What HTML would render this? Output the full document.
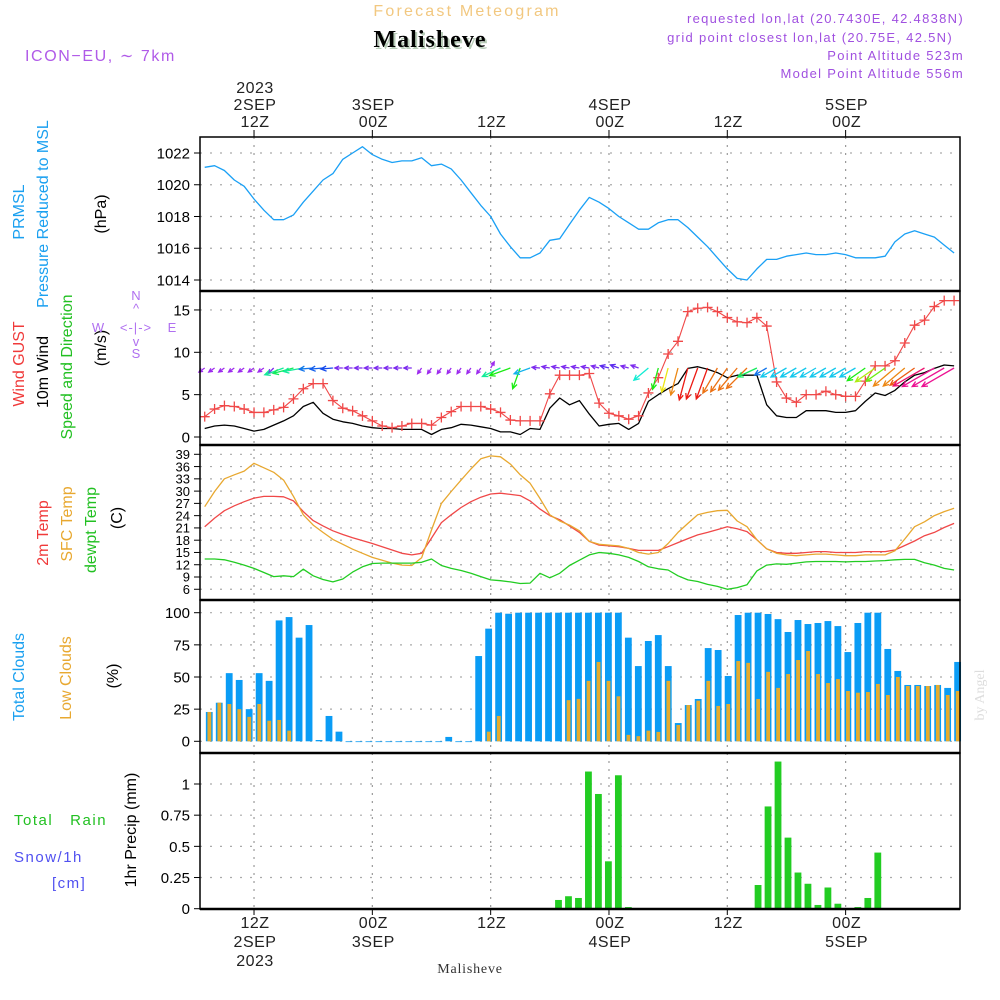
<!DOCTYPE html>
<html><head><meta charset="utf-8"><style>
html,body{margin:0;padding:0;background:#fff;}
svg{display:block;font-family:"Liberation Sans",sans-serif;}
</style></head><body>
<svg id="chart" width="1000" height="1000" viewBox="0 0 1000 1000" xmlns="http://www.w3.org/2000/svg">
<g id="grid"></g>
<g id="marks"></g>
<g id="frames"></g>
<g id="labels">
 <text x="467" y="16" font-size="16" fill="#f2c880" text-anchor="middle" letter-spacing="2.2">Forecast Meteogram</text>
 <text x="432" y="49" font-size="24" font-weight="bold" font-family="Liberation Serif, serif" fill="#b8ccb8" text-anchor="middle" letter-spacing="1">Malisheve</text>
 <text x="430" y="47" font-size="24" font-weight="bold" font-family="Liberation Serif, serif" fill="#000" text-anchor="middle" letter-spacing="1">Malisheve</text>
 <text x="25" y="61" font-size="16" fill="#b05ae8" letter-spacing="1.6">ICON−EU, ∼ 7km</text>
 <g font-size="13" fill="#a050e0" text-anchor="end" letter-spacing="1.3">
  <text x="964" y="23">requested lon,lat (20.7430E, 42.4838N)</text>
  <text x="953" y="42">grid point closest lon,lat (20.75E, 42.5N)</text>
  <text x="964" y="60">Point Altitude 523m</text>
  <text x="964" y="78">Model Point Altitude 556m</text>
 </g>
 <text x="470" y="973" font-size="14" font-family="Liberation Serif, serif" fill="#333" text-anchor="middle" letter-spacing="0.8">Malisheve</text>
 <text transform="translate(984,695) rotate(-90)" font-size="14" font-family="Liberation Serif, serif" fill="#ddd" text-anchor="middle">by Angel</text>

 <g font-size="16" text-anchor="middle">
  <text transform="translate(24,212) rotate(-90)" fill="#1aa0f0">PRMSL</text>
  <text transform="translate(48,214) rotate(-90)" fill="#1aa0f0">Pressure Reduced to MSL</text>
  <text transform="translate(106,214) rotate(-90)" fill="#000">(hPa)</text>
  <text transform="translate(24,364) rotate(-90)" fill="#f03a3a">Wind GUST</text>
  <text transform="translate(48,372) rotate(-90)" fill="#000">10m Wind</text>
  <text transform="translate(72,367) rotate(-90)" fill="#22c022">Speed and Direction</text>
  <text transform="translate(106,348) rotate(-90)" fill="#000">(m/s)</text>
  <text transform="translate(48,533) rotate(-90)" fill="#f03a3a">2m Temp</text>
  <text transform="translate(72,524) rotate(-90)" fill="#e8a830">SFC Temp</text>
  <text transform="translate(96,530) rotate(-90)" fill="#22c022">dewpt Temp</text>
  <text transform="translate(122,518) rotate(-90)" fill="#000">(C)</text>
  <text transform="translate(24,677) rotate(-90)" fill="#1aa0f0">Total Clouds</text>
  <text transform="translate(71,678) rotate(-90)" fill="#e8a830">Low Clouds</text>
  <text transform="translate(118,676) rotate(-90)" fill="#000">(%)</text>
  <text transform="translate(136,830) rotate(-90)" fill="#000">1hr Precip (mm)</text>
 </g>
 <text x="14" y="825" font-size="15" fill="#22c022" letter-spacing="1.5">Total&#160;&#160;&#160;Rain</text>
 <text x="14" y="862" font-size="15" fill="#5050f0" letter-spacing="1.5">Snow/1h</text>
 <text x="52" y="888" font-size="15" fill="#5050f0" letter-spacing="1.5">[cm]</text>
 <g font-size="13" fill="#b070f0" text-anchor="middle">
  <text x="136" y="300">N</text>
  <text x="136" y="313">^</text>
  <text x="98" y="332">W</text>
  <text x="136" y="332" letter-spacing="1">&lt;-|-&gt;</text>
  <text x="172" y="332">E</text>
  <text x="136" y="346">v</text>
  <text x="136" y="358">S</text>
 </g>
</g>
<g id="axes"></g>
</svg>
<script>
// ---- data (hourly, hour 7 of 2SEP .. hour 83) ----
const startHour = 7;
const pressure = [1021.1,1021.2,1020.9,1020.3,1019.9,1019.1,1018.4,1017.8,1017.8,1018.1,1018.9,1019.6,1020.3,1020.7,1021.6,1022.0,1022.4,1021.9,1021.6,1021.4,1021.5,1021.5,1021.7,1021.2,1021.3,1021.0,1020.3,1019.5,1018.7,1018.0,1016.9,1016.1,1015.4,1015.4,1015.7,1016.5,1016.6,1017.5,1018.4,1019.2,1018.9,1018.5,1018.0,1017.6,1017.2,1017.2,1017.6,1017.8,1017.8,1017.3,1016.7,1016.1,1015.4,1014.7,1014.1,1014.0,1014.7,1015.3,1015.3,1015.5,1015.6,1015.7,1015.6,1015.6,1015.7,1015.6,1015.4,1015.4,1015.4,1015.5,1016.4,1016.9,1017.1,1016.9,1016.7,1016.2,1015.7];
const windGust = [2.4,3.3,3.7,3.6,3.3,2.9,2.9,3.2,3.5,4.5,5.7,6.3,6.3,4.3,3.4,3.1,2.5,1.9,1.3,1.1,1.3,1.6,1.6,1.4,2.3,3.0,3.6,3.6,3.6,3.3,2.9,2.0,1.9,1.9,1.9,5.1,7.3,7.3,7.3,7.5,4.0,2.8,2.5,2.1,2.5,5.2,7.0,9.8,11.3,14.8,15.2,15.3,14.8,14.1,13.6,13.5,14.1,13.1,6.5,4.6,4.1,5.0,5.0,5.4,5.0,4.8,4.8,6.6,8.4,8.4,9.0,11.1,13.2,13.8,15.4,16.1,16.1];
const windSpeed = [1.0,1.3,1.4,1.3,1.0,0.7,0.9,1.4,1.9,2.5,3.6,4.1,2.8,2.1,1.8,1.6,1.3,1.1,1.0,1.0,0.9,0.9,0.9,0.3,0.9,1.1,1.5,1.4,1.2,1.0,0.6,0.6,0.3,1.0,0.9,3.4,4.6,3.8,4.3,2.7,1.3,1.5,1.6,0.9,1.6,4.2,5.0,5.7,6.3,8.1,8.3,8.0,7.6,7.0,7.3,7.3,7.3,3.8,2.5,2.3,2.3,3.1,3.1,3.1,2.9,2.9,3.1,4.2,5.2,4.9,5.5,6.5,7.3,7.6,8.1,8.5,8.4];
// arrow pointing direction (deg, math convention) and arrow-level wind strength
const arrowDir = [215,215,215,215,215,215,215,225,200,195,190,185,185,185,180,180,180,180,180,180,180,180,235,235,235,235,235,235,235,60,205,200,250,200,175,170,170,170,170,170,165,165,160,165,160,220,255,255,255,255,250,250,240,235,230,225,205,210,210,210,210,210,210,210,210,210,210,215,215,215,220,220,215,210,210,210,210];
const arrowSpd = [7,7,7,7,7,7,7,8,20,21,20,14,13,12,8,8,8,8,8,8,8,8,7,7,7,7,7,7,7,7,20,22,22,17,8,8,8,8,8,8,8,9,9,8,8,19,22,25,28,33,33,33,29,29,29,29,21,14,18,18,18,18,18,18,18,18,18,22,24,23,28,28,30,36,37,37,37];
const temp2m = [21.3,23.4,25.2,26.4,27.4,28.3,28.7,28.7,28.6,27.6,25.0,22.8,21.5,20.3,19.4,18.6,17.9,17.2,16.4,15.6,14.8,14.4,14.8,18.5,22.3,24.2,26.0,27.4,28.5,29.3,29.5,29.2,28.9,27.6,25.6,24.0,23.0,21.5,19.9,17.7,16.8,16.6,16.4,16.0,15.5,15.5,15.5,16.4,17.4,18.4,19.3,19.9,20.6,21.3,20.8,20.1,18.1,15.9,15.0,14.8,14.8,15.0,15.2,15.2,15.0,15.0,15.0,15.2,15.2,15.2,15.6,16.7,17.8,19.1,19.9,21.1,22.1];
const tempSfc = [26.2,29.9,33.0,34.0,34.9,36.8,35.7,34.6,32.7,28.7,24.2,21.7,19.9,18.2,17.0,15.8,14.8,13.8,13.1,12.4,11.9,11.8,13.7,20.5,27.0,29.9,32.7,35.4,37.9,38.6,38.4,36.6,34.0,31.9,28.2,24.2,22.7,21.7,20.3,17.7,17.0,16.8,16.6,16.0,15.0,14.6,15.0,17.2,19.9,22.1,24.2,24.8,25.2,25.3,22.7,21.3,18.1,15.9,14.8,14.4,14.2,14.4,14.6,14.6,14.4,14.2,14.2,14.4,14.4,14.4,15.4,18.3,21.3,22.5,24.0,25.0,25.8];
const dewpt = [13.4,13.4,13.2,12.6,11.9,11.1,10.1,9.1,9.3,9.1,10.9,9.3,8.4,7.8,8.5,10.2,11.5,12.3,12.4,12.4,12.4,12.4,12.6,13.4,11.8,11.1,10.6,9.9,9.1,8.3,8.1,7.8,7.4,7.5,9.9,8.8,9.9,11.8,13.1,14.4,15.0,14.8,14.4,13.8,12.8,11.5,11.0,10.7,9.3,8.3,7.9,7.2,6.7,6.0,6.4,7.1,10.5,11.9,12.2,12.1,12.4,12.7,12.8,12.8,12.8,12.7,12.8,12.8,12.9,13.0,13.2,13.3,13.3,12.5,11.9,11.1,10.7];
// bar series (76 bars)
const barStartHour = 7.46;
const barStepHours = 1.012;
const totalClouds = [22.8,30,53,47.7,25,53,47,94,96.6,80.6,90.4,1,19.7,7.5,0,0,0,0,0,0,0,0,0,0,3.4,0,0,66.3,87.6,100,99.2,100,100,100,100,100,100,100,100,100,100,100,80.6,58.5,78,82.6,58.5,14.2,28.2,32.9,72.5,71,50.8,98.2,100,100,99,95,85,94.3,91.2,92,93.5,89.6,69.4,92,100,100,71.8,54.7,43.8,43.8,43,43.8,41.5,61.7];
const lowClouds = [22.8,30,29,25,19,29,16,16.6,8.3,0,0,0,0,0,0,0,0,0,0,0,0,0,0,0,0,0,0,0,7.5,19.7,0,0,0,0,0,0,32,33,47,61.7,47,35,5,4,8.3,7.3,47,12.7,28.2,31.6,47,27.5,29,62.4,61,32.9,54,41.5,52.3,63.2,70.2,52.3,45.3,48.4,39.1,37.8,38.3,44.6,36,50,43,43,43,43.8,36,39.1];
const precip = [0,0,0,0,0,0,0,0,0,0,0,0,0,0,0,0,0,0,0,0,0,0,0,0,0,0,0,0,0,0,0,0,0,0,0,0.07,0.10,0.086,1.10,0.92,0.38,1.07,0.013,0,0,0,0,0,0,0,0,0,0,0,0,0.19,0.82,1.18,0.57,0.29,0.20,0.03,0.17,0.04,0,0.013,0.086,0.45,0,0,0,0,0,0,0,0];
// axis ticks
const timeTickHours = [12,24,36,48,60,72];
const timeTickTop = [["2023","2SEP","12Z"],["","3SEP","00Z"],["","","12Z"],["","4SEP","00Z"],["","","12Z"],["","5SEP","00Z"]];
const timeTickBottom = [["12Z","2SEP","2023"],["00Z","3SEP",""],["12Z","",""],["00Z","4SEP",""],["12Z","",""],["00Z","5SEP",""]];
const pressureTicks = [1014,1016,1018,1020,1022];
const windTicks = [0,5,10,15];
const tempTicks = [6,9,12,15,18,21,24,27,30,33,36,39];
const cloudTicks = [0,25,50,75,100];
const precipTicks = [0,0.25,0.5,0.75,1];
const precipTickLabels = ["0","0.25","0.5","0.75","1"];

// ---- scales ----
const X0 = 200, X1 = 960;
const panels = [137,291,445,600,753,909];
const xS = h => 135.7 + 9.86 * h;
const yP = p => 153 + (1022 - p) * 15.875;
const yW = v => 437 - v * 8.47;
const yT = t => 454.3 + (39 - t) * 4.09;
const yC = c => 741.3 - c * 1.286;
const yR = r => 908.7 - r * 124.7;
const barX = i => xS(barStartHour + i * barStepHours);

const NS = "http://www.w3.org/2000/svg";
function mk(tag, attrs, parent) {
  const el = document.createElementNS(NS, tag);
  for (const k in attrs) el.setAttribute(k, attrs[k]);
  parent.appendChild(el);
  return el;
}
const G = document.getElementById('grid'), M = document.getElementById('marks'),
      F = document.getElementById('frames'), A = document.getElementById('axes');

timeTickHours.forEach(h => {
  const l = mk('line', {x1: xS(h), x2: xS(h), y1: panels[0], y2: panels[5], stroke: '#999', 'stroke-width': 1.2, 'stroke-dasharray': '2,6'}, G);
  
  
});
function hGrid(vals, sc, name) {
  vals.forEach(v => {
    const l = mk('line', {x1: X0, x2: X1, y1: sc(v), y2: sc(v), stroke: '#aaa', 'stroke-width': 1.2, 'stroke-dasharray': '2,8'}, G);
    
    
  });
}
hGrid(pressureTicks, yP, 'pressure-gridline');
hGrid(windTicks, yW, 'wind-gridline');
hGrid(tempTicks, yT, 'temp-gridline');
hGrid(cloudTicks, yC, 'cloud-gridline');
hGrid(precipTicks, yR, 'precip-gridline');

function line(arr, sc, color, name, w) {
  const pts = arr.map((v, i) => xS(startHour + i).toFixed(1) + ',' + sc(v).toFixed(1)).join(' ');
  const p = mk('polyline', {points: pts, fill: 'none', stroke: color, 'stroke-width': w || 1.3, 'stroke-linejoin': 'round'}, M);
  
  
  return p;
}
totalClouds.forEach((c, i) => {
  const y = yC(c);
  const r = mk('rect', {x: barX(i) - 3.4, y: y, width: 6.8, height: Math.max(741.3 - y, 0.8), fill: '#0a9cf5'}, M);
  
  
});
lowClouds.forEach((c, i) => {
  if (c <= 0) return;
  const y = yC(c);
  const r = mk('rect', {x: barX(i) - 1.8, y: y, width: 3.8, height: 741.3 - y, fill: '#e6ab2c'}, M);
  
  
});
precip.forEach((v, i) => {
  if (v <= 0) return;
  const y = yR(v);
  const r = mk('rect', {x: barX(i) - 3.4, y: y, width: 6.8, height: 908.7 - y, fill: '#22cc22'}, M);
  
  
});

line(pressure, yP, '#1aa0f5', 'pressure-line', 1.3);
line(temp2m, yT, '#f04848', 'temp-2m-line', 1.3);
line(tempSfc, yT, '#e8a830', 'temp-sfc-line', 1.3);
line(dewpt, yT, '#22cc22', 'dewpoint-line', 1.3);
line(windSpeed, yW, '#000', 'wind-speed-line', 1.3);
line(windGust, yW, '#f04848', 'wind-gust-line', 1.1);
windGust.forEach((v, i) => {
  const x = xS(startHour + i), y = yW(v);
  const p = mk('path', {d: `M${x-5},${y}H${x+5}M${x},${y-5}V${y+5}`, stroke: '#f04848', 'stroke-width': 1.3}, M);
  
  
});
const hueStops = [[7,275],[12,225],[18,190],[21,140],[23,95],[25,58],[28,32],[33,2],[37,-35]];
function hueOf(s) {
  if (s <= hueStops[0][0]) return hueStops[0][1];
  for (let k = 1; k < hueStops.length; k++) {
    if (s <= hueStops[k][0]) {
      const [a, ha] = hueStops[k-1], [b, hb] = hueStops[k];
      return ha + (hb - ha) * (s - a) / (b - a);
    }
  }
  return hueStops[hueStops.length-1][1];
}
arrowDir.forEach((d, i) => {
  const s = arrowSpd[i];
  const x = xS(startHour + i), y = 368;
  const a = d * Math.PI / 180;
  const hx = x + s * Math.cos(a), hy = y - s * Math.sin(a);
  const hl = Math.min(6, s * 0.6);
  const b1 = a + Math.PI - 0.45, b2 = a + Math.PI + 0.45;
  const h = (hueOf(s) + 360) % 360;
  const col = `hsl(${h.toFixed(0)},85%,${s < 10 ? 55 : 50}%)`;
  const p = mk('path', {d: `M${x.toFixed(1)},${y}L${hx.toFixed(1)},${hy.toFixed(1)}M${(hx + hl*Math.cos(b1)).toFixed(1)},${(hy - hl*Math.sin(b1)).toFixed(1)}L${hx.toFixed(1)},${hy.toFixed(1)}L${(hx + hl*Math.cos(b2)).toFixed(1)},${(hy - hl*Math.sin(b2)).toFixed(1)}`, stroke: col, 'stroke-width': 1.3, fill: 'none'}, M);
  
  
});

for (let k = 0; k < 5; k++) {
  const r = mk('rect', {x: X0, y: panels[k], width: X1 - X0, height: panels[k+1] - panels[k], fill: 'none', stroke: '#000', 'stroke-width': 1.5}, F);
  
  
}
for (let k = 1; k < 5; k++) {
  const l = mk('line', {x1: X0, x2: X1, y1: panels[k], y2: panels[k], stroke: '#000', 'stroke-width': 2.5}, F);
  
  
}
const bl = mk('line', {x1: X0, x2: X1, y1: 909, y2: 909, stroke: '#000', 'stroke-width': 2.5}, F);



function yTicks(vals, labels, sc, fs, name) {
  vals.forEach((v, i) => {
    const y = sc(v);
    const t = mk('line', {x1: 194, x2: X0, y1: y, y2: y, stroke: '#000', 'stroke-width': 1}, A);
    
    
    const tx = mk('text', {x: 190, y: y + fs * 0.36, 'font-size': fs, 'text-anchor': 'end', fill: '#000'}, A);
    tx.textContent = labels[i];
    
    
  });
}
yTicks(pressureTicks, pressureTicks.map(String), yP, 15, 'pressure');
yTicks(windTicks, windTicks.map(String), yW, 15, 'wind');
yTicks(tempTicks, tempTicks.map(String), yT, 13, 'temp');
yTicks(cloudTicks, cloudTicks.map(String), yC, 15, 'cloud');
yTicks(precipTicks, precipTickLabels, yR, 15, 'precip');

timeTickHours.forEach((h, i) => {
  const x = xS(h);
  const t1 = mk('line', {x1: x, x2: x, y1: 130, y2: 137, stroke: '#000'}, A);
  
  
  const t2 = mk('line', {x1: x, x2: x, y1: 909, y2: 915, stroke: '#000'}, A);
  
  
  [93, 110, 127].forEach((yy, j) => {
    const s = timeTickTop[i][j];
    if (!s) return;
    const tx = mk('text', {x: x + 1, y: yy, 'font-size': 16, 'text-anchor': 'middle', fill: '#222', 'letter-spacing': 0.5}, A);
    tx.textContent = s;
    
    
  });
  [928, 947, 966].forEach((yy, j) => {
    const s = timeTickBottom[i][j];
    if (!s) return;
    const tx = mk('text', {x: x + 1, y: yy, 'font-size': 16, 'text-anchor': 'middle', fill: '#222', 'letter-spacing': 0.5}, A);
    tx.textContent = s;
    
    
  });
});
</script>
</body></html>
